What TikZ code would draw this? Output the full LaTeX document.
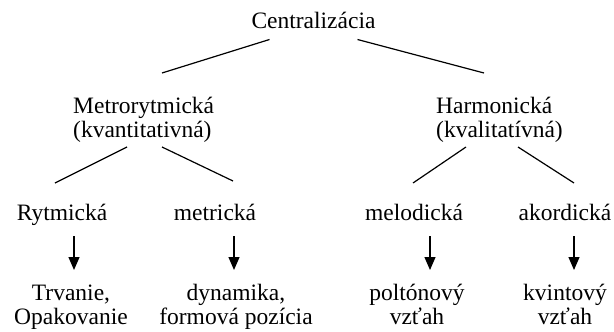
\documentclass[tikz,border=0pt]{standalone}
\usepackage{fontspec}
\setmainfont{Liberation Serif}
\usetikzlibrary{arrows.meta}

\begin{document}
\begin{tikzpicture}[x=1pt,y=-1pt,
  lbl/.style={inner sep=0pt,font=\fontsize{23.5}{24.5}\selectfont},
  arr/.style={line width=1.2pt,-{Triangle[length=13pt,width=11pt]}},
  branch/.style={line width=1.2pt}]
\useasboundingbox (0,0) rectangle (614,332);
\node[lbl,anchor=base] (cen) at (313.5,28) {Centralizácia};

\node[lbl,anchor=base west,align=left] (met) at (73,137.5) {Metrorytmická\\(kvantitativná)};
\node[lbl,anchor=base west,align=left] (har) at (436,137.5) {Harmonická\\(kvalitatívná)};

\node[lbl,anchor=base] (ryt) at (62,220) {Rytmická};
\node[lbl,anchor=base] (metr) at (215,220) {metrická};
\node[lbl,anchor=base] (mel) at (414,220) {melodická};
\node[lbl,anchor=base] (ako) at (565,220) {akordická};

\node[lbl,anchor=base,align=center] (trv) at (71,324.5) {Trvanie,\\Opakovanie};
\node[lbl,anchor=base,align=center] (dyn) at (236,324.5) {dynamika,\\formová pozícia};
\node[lbl,anchor=base,align=center] (pol) at (417,324.5) {poltónový\\vzťah};
\node[lbl,anchor=base,align=center] (kvi) at (565,324.5) {kvintový\\vzťah};

\draw[branch] ([shift={(-44pt,-11.5pt)}]cen.base) -- ([shift={(89pt,64.5pt)}]met.base west);
\draw[branch] ([shift={(44pt,-11.5pt)}]cen.base) -- ([shift={(48pt,64.5pt)}]har.base west);
\draw[branch] ([shift={(54pt,-9.5pt)}]met.base west) -- ([shift={(-7pt,37pt)}]ryt.base);
\draw[branch] ([shift={(89pt,-9.5pt)}]met.base west) -- ([shift={(18pt,39pt)}]metr.base);
\draw[branch] ([shift={(30pt,-9.5pt)}]har.base west) -- ([shift={(-1pt,37pt)}]mel.base);
\draw[branch] ([shift={(82pt,-9.5pt)}]har.base west) -- ([shift={(9pt,37pt)}]ako.base);

\foreach \a/\sa/\b/\sb in {ryt/12/trv/3,metr/19/dyn/-2,mel/16/pol/13,ako/9/kvi/9}{
\draw[arr] ([shift={(\sa pt,-16pt)}]\a.base) -- ([shift={(\sb pt,54.5pt)}]\b.base);
}
\end{tikzpicture}
\end{document}
